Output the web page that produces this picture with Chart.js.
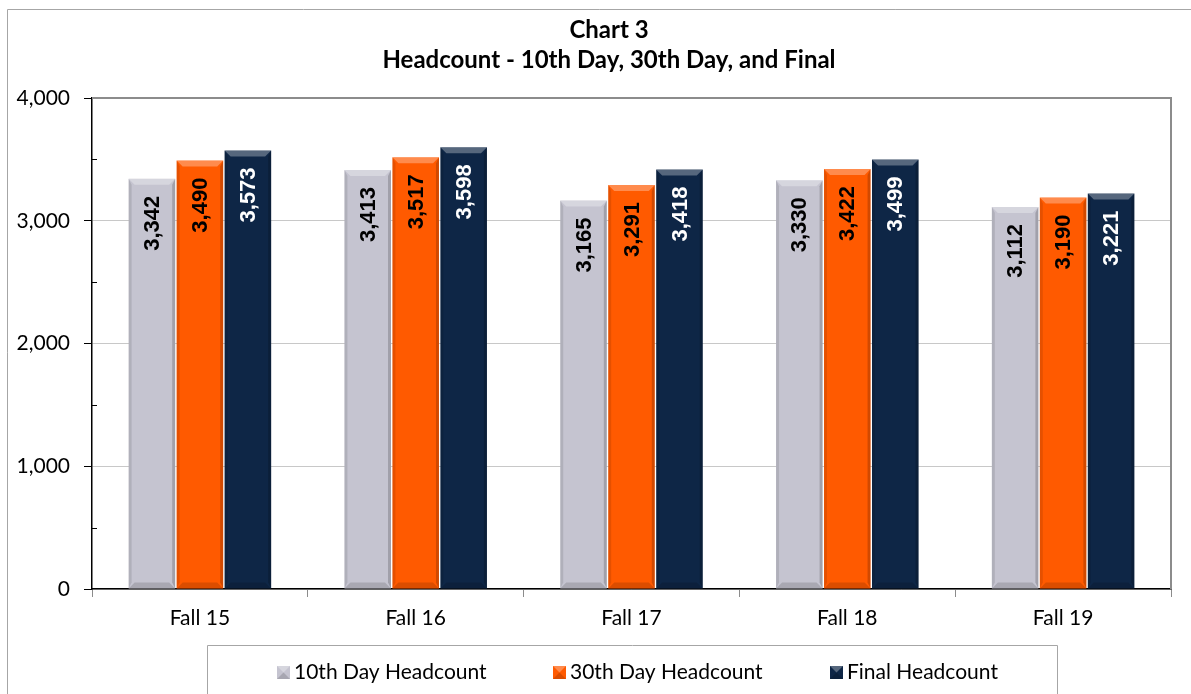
<!DOCTYPE html>
<html>
<head>
<meta charset="utf-8">
<script src="https://cdn.jsdelivr.net/npm/chart.js@4.4.1/dist/chart.umd.min.js"></script>
<style>
  html, body { margin: 0; padding: 0; background: #ffffff; }
  #wrap { width: 1191px; height: 694px; position: relative; }
</style>
</head>
<body>
<div id="wrap"><canvas id="c" width="1191" height="694"></canvas></div>
<script>
const categories = ['Fall 15', 'Fall 16', 'Fall 17', 'Fall 18', 'Fall 19'];
const tenthDay = [3342, 3413, 3165, 3330, 3112];
const thirtiethDay = [3490, 3517, 3291, 3422, 3190];
const finalHeadcount = [3573, 3598, 3418, 3499, 3221];
const seriesLabels = ['10th Day Headcount', '30th Day Headcount', 'Final Headcount'];
const seriesColors = ['#C5C4D0', '#FF5A00', '#0E2646'];
const labelColors = ['#000000', '#000000', '#FFFFFF'];
const yTicks = [0, 1000, 2000, 3000, 4000];
const titleLines = ['Chart 3', 'Headcount - 10th Day, 30th Day, and Final'];

const fmt = v => v.toLocaleString('en-US');
const FONT = 'Lato, "Open Sans", sans-serif';

// background, outer border and plot border
const framePlugin = {
  id: 'frame',
  beforeDraw(chart) {
    const ctx = chart.ctx;
    ctx.save();
    ctx.fillStyle = '#ffffff';
    ctx.fillRect(0, 0, chart.width, chart.height);
    ctx.strokeStyle = '#A6A6A6';
    ctx.lineWidth = 1;
    ctx.beginPath();
    ctx.moveTo(7.5, chart.height + 2);
    ctx.lineTo(7.5, 9.5);
    ctx.lineTo(chart.width + 2, 9.5);
    ctx.stroke();
    ctx.restore();
  },
  afterDraw(chart) {
    const ctx = chart.ctx;
    const a = chart.chartArea;
    ctx.save();
    ctx.strokeStyle = '#8C8C8C';
    ctx.lineWidth = 2;
    ctx.beginPath();
    ctx.moveTo(a.left, a.top);
    ctx.lineTo(a.right, a.top);
    ctx.lineTo(a.right, a.bottom);
    ctx.stroke();
    // minor ticks on the y axis (inside)
    const ys = chart.scales.y;
    ctx.strokeStyle = '#000000';
    ctx.lineWidth = 1;
    for (let v = 500; v < 4000; v += 1000) {
      const py = Math.round(ys.getPixelForValue(v)) + 0.5;
      ctx.beginPath();
      ctx.moveTo(a.left, py);
      ctx.lineTo(a.left + 5, py);
      ctx.stroke();
    }
    ctx.restore();
  }
};

// bevel overlay + rotated value labels
const barDecor = {
  id: 'barDecor',
  afterDatasetsDraw(chart) {
    const ctx = chart.ctx;
    chart.data.datasets.forEach((ds, di) => {
      const meta = chart.getDatasetMeta(di);
      meta.data.forEach((bar, i) => {
        const p = bar.getProps(['x', 'y', 'base', 'width'], true);
        const x0 = p.x - p.width / 2, x1 = p.x + p.width / 2;
        const y0 = p.y, y1 = p.base;
        const b = 6;
        ctx.save();
        ctx.fillStyle = 'rgba(0,0,0,0.10)';
        ctx.beginPath();
        ctx.moveTo(x0, y0); ctx.lineTo(x0 + 3, y0 + b); ctx.lineTo(x0 + 3, y1 - b); ctx.lineTo(x0, y1);
        ctx.closePath(); ctx.fill();
        ctx.fillStyle = 'rgba(0,0,0,0.18)';
        ctx.beginPath();
        ctx.moveTo(x1, y0); ctx.lineTo(x1 - 3, y0 + b); ctx.lineTo(x1 - 3, y1 - b); ctx.lineTo(x1, y1);
        ctx.closePath(); ctx.fill();
        ctx.fillStyle = 'rgba(255,255,255,0.30)';
        ctx.beginPath();
        ctx.moveTo(x0, y0); ctx.lineTo(x1, y0); ctx.lineTo(x1 - b, y0 + b); ctx.lineTo(x0 + b, y0 + b);
        ctx.closePath(); ctx.fill();
        ctx.fillStyle = 'rgba(0,0,0,0.14)';
        ctx.beginPath();
        ctx.moveTo(x0, y1); ctx.lineTo(x1, y1); ctx.lineTo(x1 - b, y1 - b); ctx.lineTo(x0 + b, y1 - b);
        ctx.closePath(); ctx.fill();
        // value label
        ctx.translate(p.x, y0 + 17);
        ctx.rotate(-Math.PI / 2);
        ctx.font = 'bold 22px "Liberation Sans", Arial, sans-serif';
        ctx.fillStyle = labelColors[di];
        ctx.textAlign = 'right';
        ctx.textBaseline = 'middle';
        ctx.fillText(fmt(ds.data[i]), 0, 1);
        ctx.restore();
      });
    });
  }
};

// custom boxed legend
const boxLegend = {
  id: 'boxLegend',
  afterDraw(chart) {
    const ctx = chart.ctx;
    ctx.save();
    ctx.strokeStyle = '#A6A6A6';
    ctx.lineWidth = 1;
    ctx.beginPath();
    ctx.moveTo(207.5, chart.height + 2);
    ctx.lineTo(207.5, 645.5);
    ctx.lineTo(1057.5, 645.5);
    ctx.lineTo(1057.5, chart.height + 2);
    ctx.stroke();
    const iconX = [277, 553, 830];
    const cy = 672;
    ctx.font = '21px ' + FONT;
    ctx.textBaseline = 'middle';
    ctx.textAlign = 'left';
    chart.data.datasets.forEach((ds, di) => {
      const x = iconX[di];
      ctx.fillStyle = ds.backgroundColor;
      ctx.fillRect(x, cy - 6, 13, 13);
      ctx.fillStyle = 'rgba(255,255,255,0.3)';
      ctx.beginPath();
      ctx.moveTo(x, cy - 6); ctx.lineTo(x + 13, cy - 6); ctx.lineTo(x + 6.5, cy + 0.5); ctx.closePath(); ctx.fill();
      ctx.fillStyle = 'rgba(0,0,0,0.15)';
      ctx.beginPath();
      ctx.moveTo(x, cy + 7); ctx.lineTo(x + 13, cy + 7); ctx.lineTo(x + 6.5, cy + 0.5); ctx.closePath(); ctx.fill();
      ctx.fillStyle = '#000000';
      ctx.fillText(ds.label, x + 17, cy);
    });
    ctx.restore();
  }
};

const ds = [tenthDay, thirtiethDay, finalHeadcount].map((d, i) => ({
  label: seriesLabels[i],
  data: d,
  backgroundColor: seriesColors[i],
  borderWidth: 0,
  categoryPercentage: 0.667,
  barPercentage: 0.97
}));

new Chart(document.getElementById('c'), {
  type: 'bar',
  data: { labels: categories, datasets: ds },
  plugins: [framePlugin, barDecor, boxLegend],
  options: {
    responsive: false,
    animation: false,
    devicePixelRatio: 1,
    layout: { padding: { left: 14, right: -13, top: 0, bottom: 0 } },
    plugins: {
      legend: { display: false },
      tooltip: { enabled: false },
      title: {
        display: true,
        text: titleLines,
        color: '#000000',
        font: { family: FONT, size: 24, weight: 'bold', lineHeight: 1.25 },
        padding: { top: 15, bottom: 23 }
      }
    },
    scales: {
      x: {
        grid: { display: true, drawOnChartArea: false, offset: true, color: '#8C8C8C', tickLength: 8 },
        border: { display: true, color: '#000000', width: 1.5 },
        ticks: { color: '#000000', font: { family: FONT, size: 21 }, padding: 9 },
        afterFit(scale) { scale.height = 105; }
      },
      y: {
        min: 0,
        max: 4000,
        afterBuildTicks(scale) { scale.ticks = yTicks.map(v => ({ value: v })); },
        grid: { color: '#C8C8C8', lineWidth: 1, tickColor: '#000000', tickLength: 8 },
        border: { display: true, color: '#000000', width: 1.5 },
        ticks: {
          color: '#000000',
          font: { family: FONT, size: 21 },
          padding: 14,
          callback: v => fmt(v)
        },
        afterFit(scale) { scale.width = 78; }
      },
      yRightSpacer: {
        type: 'linear',
        position: 'right',
        display: true,
        grid: { display: false },
        border: { display: false },
        ticks: { display: false },
        afterFit(scale) { scale.width = 33; }
      }
    }
  }
});
</script>
</body>
</html>
